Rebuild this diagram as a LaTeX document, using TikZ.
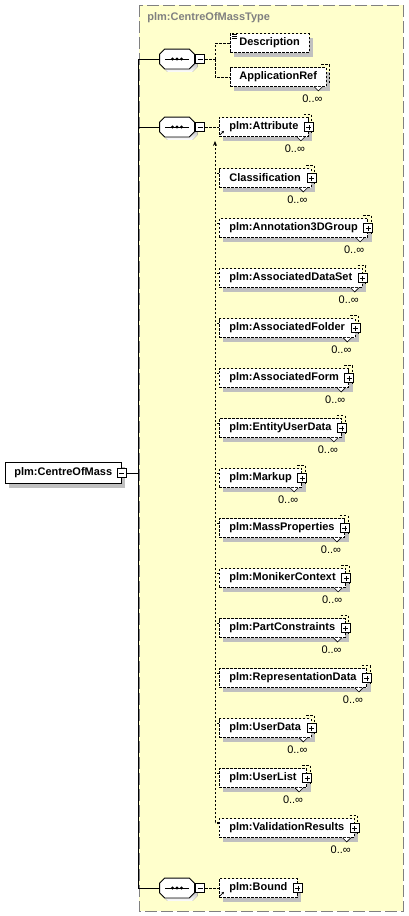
\documentclass[tikz,border=0pt]{standalone}
\usepackage{fontspec}
\setmainfont{Liberation Sans}
\usetikzlibrary{shadows,arrows.meta}
\definecolor{typefill}{HTML}{FFFFCC}
\definecolor{typeline}{HTML}{808080}
\definecolor{shade}{HTML}{C0C0C0}
% octagon outline of a sequence node
\newcommand{\octpath}[1]{([xshift=5pt]#1.north west) -- ([xshift=-5pt]#1.north east) -- ([yshift=-5pt]#1.north east) -- ([yshift=5pt]#1.south east) -- ([xshift=-5pt]#1.south east) -- ([xshift=5pt]#1.south west) -- ([yshift=5pt]#1.south west) -- ([yshift=-5pt]#1.north west) -- cycle}
\begin{document}
\begin{tikzpicture}[x=1pt, y=-1pt, line width=0.8pt, >={Stealth[length=5pt,width=4pt]},
  font=\fontsize{11}{13}\selectfont\bfseries,
  dropgray/.style={drop shadow={shadow xshift=4pt, shadow yshift=-4pt, fill=shade, opacity=1, draw=none}},
  elem/.style={draw, dash pattern=on 2.5pt off 1.5pt, fill=white, anchor=west, minimum height=19pt, inner xsep=10pt, inner ysep=0pt, dropgray},
  rootbox/.style={draw, solid, fill=white, anchor=west, minimum height=21pt, inner xsep=9pt, inner ysep=0pt, dropgray},
  seq/.style={minimum width=34pt, minimum height=19pt, inner sep=0pt},
  minus/.style={draw, solid, fill=white, minimum size=9pt, inner sep=0pt, line width=0.6pt,
    path picture={\draw ([xshift=2pt]path picture bounding box.west) -- ([xshift=-2pt]path picture bounding box.east);}},
  plus/.style={draw, solid, fill=white, minimum size=9pt, inner sep=0pt, line width=0.6pt,
    path picture={\draw ([xshift=2pt]path picture bounding box.west) -- ([xshift=-2pt]path picture bounding box.east);
      \draw ([yshift=2pt]path picture bounding box.south) -- ([yshift=-2pt]path picture bounding box.north);}},
  cnt/.style={font=\fontsize{11}{13}\selectfont, inner sep=0pt},
  conn/.style={dash pattern=on 2.5pt off 1.5pt, line width=0.7pt}]
\useasboundingbox (0,0) rectangle (408,916);
% complex type frame
\draw[typeline, fill=typefill, dash pattern=on 12pt off 4pt] (139,5) rectangle (403,911);
\node[anchor=west, inner sep=0pt, text=typeline] (title) at (147,18) {plm:CentreOfMassType};
% root element
\node[rootbox] (root) at (5,473) {plm:CentreOfMass\hspace{3pt}};
\node[minus] (rootm) at (root.east) {};
% sequences
\node[seq] (seqA) at (177,59) {};
\node[seq] (seqB) at (177,127) {};
\node[seq] (seqC) at (177,888) {};
\foreach \s in {seqA,seqB,seqC} {
  \begin{scope}[transform canvas={shift={(3pt,-3pt)}}]
    \fill[shade] \octpath{\s};
  \end{scope}
  \draw[fill=white] \octpath{\s};
  \draw ([xshift=-12pt]\s.center) -- ([xshift=12pt]\s.center);
  \foreach \d in {-4.5,0,4.5} \fill ([xshift=\d pt]\s.center) circle (1.7pt);
}
\node[minus, anchor=west] (mA) at ([xshift=1pt]seqA.east) {};
\node[minus, anchor=west] (mB) at ([xshift=1pt]seqB.east) {};
\node[minus, anchor=west] (mC) at ([xshift=1pt]seqC.east) {};
\draw (rootm.east) -- ++(12.5,0) coordinate (tr);
\draw (tr) |- (seqA.west);
\draw (tr) |- (seqB.west);
\draw (tr) |- (seqC.west);
% children
\node[elem, inner xsep=9pt] (desc) at (230,43) {Description};
\node[elem, inner xsep=9pt] (appref) at (230,77) {ApplicationRef};
\node[elem] (attr) at (219,127) {plm:Attribute};
\node[elem] (cls) at (219,178) {Classification};
\node[elem] (ann) at (219,228) {plm:Annotation3DGroup};
\node[elem] (ads) at (219,278) {plm:AssociatedDataSet};
\node[elem] (afold) at (219,328) {plm:AssociatedFolder};
\node[elem] (aform) at (219,378) {plm:AssociatedForm};
\node[elem] (eud) at (219,428) {plm:EntityUserData};
\node[elem] (mkp) at (219,478) {plm:Markup};
\node[elem] (mass) at (219,528) {plm:MassProperties};
\node[elem] (mon) at (219,578) {plm:MonikerContext};
\node[elem] (pcon) at (219,628) {plm:PartConstraints};
\node[elem] (rep) at (219,678) {plm:RepresentationData};
\node[elem] (ud) at (219,728) {plm:UserData};
\node[elem] (ul) at (219,778) {plm:UserList};
\node[elem] (val) at (219,828) {plm:ValidationResults};
\node[elem] (bound) at (219,888) {plm:Bound};
% connectors
\draw[conn] (mA.east) -- ++(10,0) coordinate (jA);
\draw[conn] (jA) |- (desc.west);
\draw[conn] (jA) |- (appref.west);
\draw[conn] (mB.east) -- (attr.west);
\draw[conn] (mC.east) -- (bound.west);
\draw[conn, ->] ([yshift=-4pt]val.north west) -| ([shift={(-4,4)}]attr.south west);
% icons and occurrences
\foreach \l in {0,2,4} \draw[line width=0.6pt] ([shift={(2,1.5+\l)}]desc.north west) -- ++(5,0);
\foreach \n in {attr,bound} \draw[-{Stealth[length=2.5pt,width=2.5pt]}, line width=0.6pt] ([shift={(1,-2)}]\n.south west) -- ++(4,-4);
\foreach \n in {cls,ann,ads,afold,aform,eud,mkp,mass,mon,pcon,rep,ud,ul,val} \draw[conn] ([yshift=5pt]\n.west) -- ++(-4,0);
\foreach \n in {appref,attr,cls,ann,ads,afold,aform,eud,mkp,mass,mon,pcon,rep,ud,ul,val} {
  \draw[conn] ([shift={(-5,-2.5)}]\n.north east) -- ++(8,0) -- ([shift={(3,-3)}]\n.south east);
  \draw[fill=white, line width=0.6pt] ([xshift=-12pt]\n.south east) -- ++(4,4) -- ++(4,-4);
  \node[cnt] (c\n) at ([shift={(-14,22)}]\n.east) {0..∞};
}
\foreach \n in {attr,cls,ann,ads,afold,aform,eud,mkp,mass,mon,pcon,rep,ud,ul,val,bound} \node[plus] (p\n) at (\n.east) {};
\end{tikzpicture}
\end{document}
